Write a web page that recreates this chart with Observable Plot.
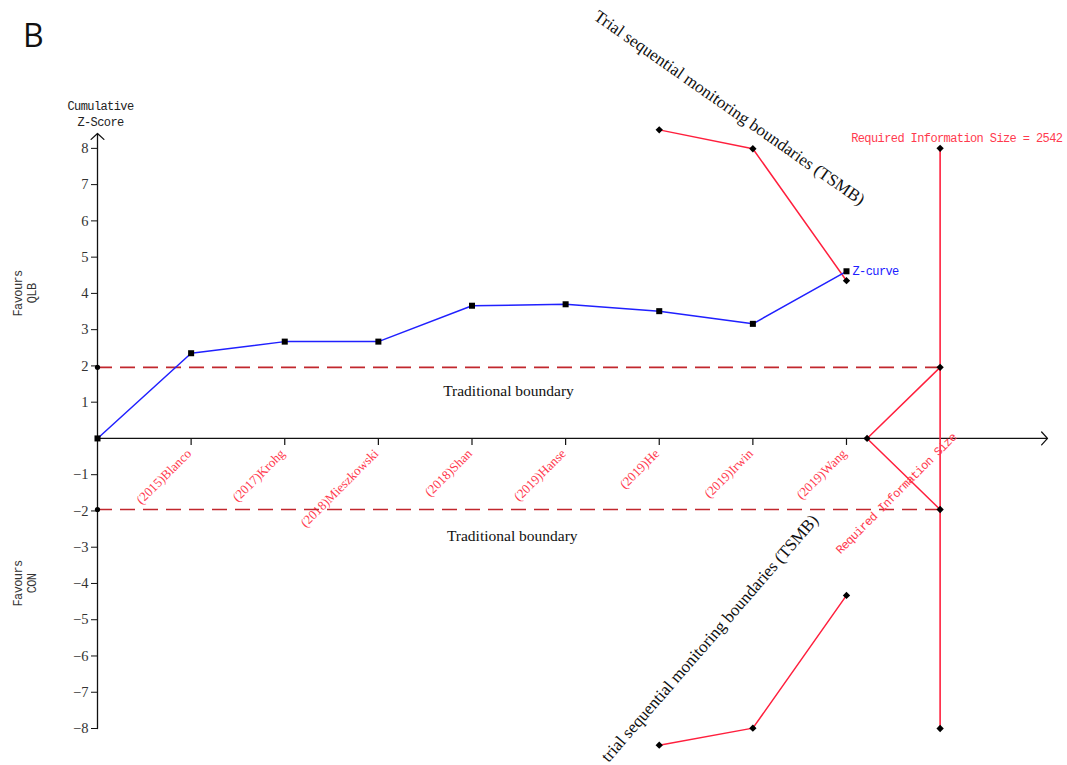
<!DOCTYPE html>
<html><head><meta charset="utf-8">
<script src="https://cdn.jsdelivr.net/npm/d3@7"></script>
<script src="https://cdn.jsdelivr.net/npm/@observablehq/plot@0.6"></script>
<style>
body{margin:0;background:#fff;}
#wrap{position:relative;width:1067px;height:765px;overflow:hidden;}
#panel{position:absolute;left:23px;top:19px;font:32px "Open Sans",sans-serif;line-height:1;color:#111;}
#chart{position:absolute;left:0;top:0;}
.mono text{letter-spacing:-0.6px;}
</style></head><body>
<div id="wrap"><div id="chart"></div><div id="panel">B</div></div>
<script>
// ---- data ----
const studies = ["(2015)Blanco","(2017)Krohg","(2018)Mieszkowski","(2018)Shan","(2019)Hanse","(2019)He","(2019)Irwin","(2019)Wang"];
const studyPos = [1,2,3,4,5,6,7,8];
const zPos = [0,1,2,3,4,5,6,7,8];
const zScores = [0,2.35,2.67,2.67,3.66,3.70,3.51,3.16,4.61];
const tsmbPos = [6,7,8];
const tsmbUpper = [8.51,7.99,4.35];
const tsmbLower = [-8.46,-7.99,-4.33];
const futilityPos = [8.22,9];
const futilityUpper = [0,1.96];
const futilityLower = [0,-1.96];
const risPos = 9;
const risValue = 2542;
const risRange = [-8,8];
const tradBoundary = 1.96;
const yTicks = [-8,-7,-6,-5,-4,-3,-2,-1,1,2,3,4,5,6,7,8];

// ---- derived tables ----
const zData = zPos.map((x,i)=>({x, z:zScores[i]}));
const upperData = tsmbPos.map((x,i)=>({x, z:tsmbUpper[i]}));
const lowerData = tsmbPos.map((x,i)=>({x, z:tsmbLower[i]}));
const futU = futilityPos.map((x,i)=>({x, z:futilityUpper[i]}));
const futL = futilityPos.map((x,i)=>({x, z:futilityLower[i]}));
const labelData = studyPos.map((x,i)=>({x, label:studies[i]}));
const boundaryDots = [
  {x:futilityPos[0], z:0},
  {x:risPos, z:risRange[1]}, {x:risPos, z:risRange[0]},
  {x:risPos, z:tradBoundary}, {x:risPos, z:-tradBoundary},
  ...upperData, ...lowerData
];

const RED = "#ff1f3d";
const LABEL_RED = "#ff3a4e";
const DARKRED = "#c1272d";
const BLUE = "#2020ff";
const MONO = "'Liberation Mono', monospace";
const SERIF = "'Liberation Serif', serif";
const yTop = 8.41;
const xEnd = 10.147;

const chart = Plot.plot({
  width: 1067,
  height: 765,
  marginLeft: 97,
  marginRight: 20,
  marginTop: 133,
  marginBottom: 37,
  x: {domain: [0, xEnd], axis: null},
  y: {domain: [-8, yTop], axis: null},
  style: {fontFamily: SERIF, background: "white", overflow: "visible"},
  marks: [
    // axes
    Plot.arrow([0], {x1: 0, y1: -8, x2: 0, y2: yTop, stroke: "#111", strokeWidth: 1.3, headLength: 10, headAngle: 95}),
    Plot.arrow([0], {x1: 0, y1: 0, x2: xEnd, y2: 0, stroke: "#111", strokeWidth: 1.3, headLength: 10, headAngle: 95}),
    Plot.axisY({ticks: yTicks, label: null, tickSize: 6, tickPadding: 3, fontSize: 14.5, fontFamily: SERIF, color: "#333", stroke: "#111"}),
    Plot.ruleX(studyPos, {y1: 0, y2: 0, insetBottom: -7, stroke: "#111", strokeWidth: 1.2}),
    Plot.text(labelData, {x: "x", y: 0, text: "label", rotate: -45, textAnchor: "end", dx: -2, dy: 13, fill: LABEL_RED, fontSize: 13, fontFamily: SERIF}),

    // traditional boundaries
    Plot.ruleY([tradBoundary, -tradBoundary], {x1: 0, x2: risPos, stroke: DARKRED, strokeWidth: 1.6, strokeDasharray: "15,8"}),
    Plot.dot([tradBoundary, -tradBoundary], {x: 0, y: d => d, r: 2.6, fill: "#000", stroke: null}),

    // required information size
    Plot.ruleX([risPos], {y1: risRange[0], y2: risRange[1], stroke: RED, strokeWidth: 1.6}),
    Plot.line(futU, {x: "x", y: "z", stroke: RED, strokeWidth: 1.5}),
    Plot.line(futL, {x: "x", y: "z", stroke: RED, strokeWidth: 1.5}),

    // TSMB
    Plot.line(upperData, {x: "x", y: "z", stroke: RED, strokeWidth: 1.5}),
    Plot.line(lowerData, {x: "x", y: "z", stroke: RED, strokeWidth: 1.5}),
    Plot.dot(boundaryDots, {x: "x", y: "z", symbol: "diamond2", r: 3.3, fill: "#000", stroke: null}),

    // Z-curve
    Plot.line(zData, {x: "x", y: "z", stroke: BLUE, strokeWidth: 1.5}),
    Plot.dot(zData, {x: "x", y: "z", symbol: "square", r: 3.4, fill: "#000", stroke: null}),
    Plot.text([zData[zData.length-1]], {x: "x", y: "z", text: () => "Z-curve", textAnchor: "start", dx: 6, fill: BLUE, fontSize: 12, fontFamily: MONO, className: "mono"}),

    // annotations
    Plot.text(["Traditional boundary"], {x: 4.39, y: 1.32, text: d => d, fontSize: 15.5, fill: "#111", fontFamily: SERIF}),
    Plot.text(["Traditional boundary"], {x: 4.43, y: -2.7, text: d => d, fontSize: 15.5, fill: "#111", fontFamily: SERIF}),
    Plot.text(["Trial sequential monitoring boundaries (TSMB)"], {x: 6.75, y: 9.12, text: d => d, rotate: 35, fontSize: 17, fill: "#111", fontFamily: SERIF}),
    Plot.text(["trial sequential monitoring boundaries (TSMB)"], {x: 6.54, y: -5.51, text: d => d, rotate: -49, fontSize: 17, fill: "#111", fontFamily: SERIF}),
    Plot.text([risValue], {x: 8.05, y: 8.27, text: d => `Required Information Size = ${d}`, textAnchor: "start", fill: LABEL_RED, fontSize: 12, fontFamily: MONO, className: "mono"}),
    Plot.text(["Required Information Size"], {x: 8.53, y: -1.52, text: d => d, rotate: -45, fill: LABEL_RED, fontSize: 12, fontFamily: MONO, className: "mono"}),
    Plot.text(["Cumulative\nZ-Score"], {x: 0, y: yTop, text: d => d, dx: 3, dy: -8, lineAnchor: "bottom", lineHeight: 1.3, fill: "#222", fontSize: 12, fontFamily: MONO, className: "mono"}),
    Plot.text(["Favours\nQLB"], {x: 0, y: 4, text: d => d, dx: -73, rotate: -90, lineHeight: 1.2, fill: "#333", fontSize: 12, fontFamily: MONO, className: "mono"}),
    Plot.text(["Favours\nCON"], {x: 0, y: -4, text: d => d, dx: -73, rotate: -90, lineHeight: 1.2, fill: "#333", fontSize: 12, fontFamily: MONO, className: "mono"})
  ]
});
document.getElementById("chart").appendChild(chart);
</script>
</body></html>
